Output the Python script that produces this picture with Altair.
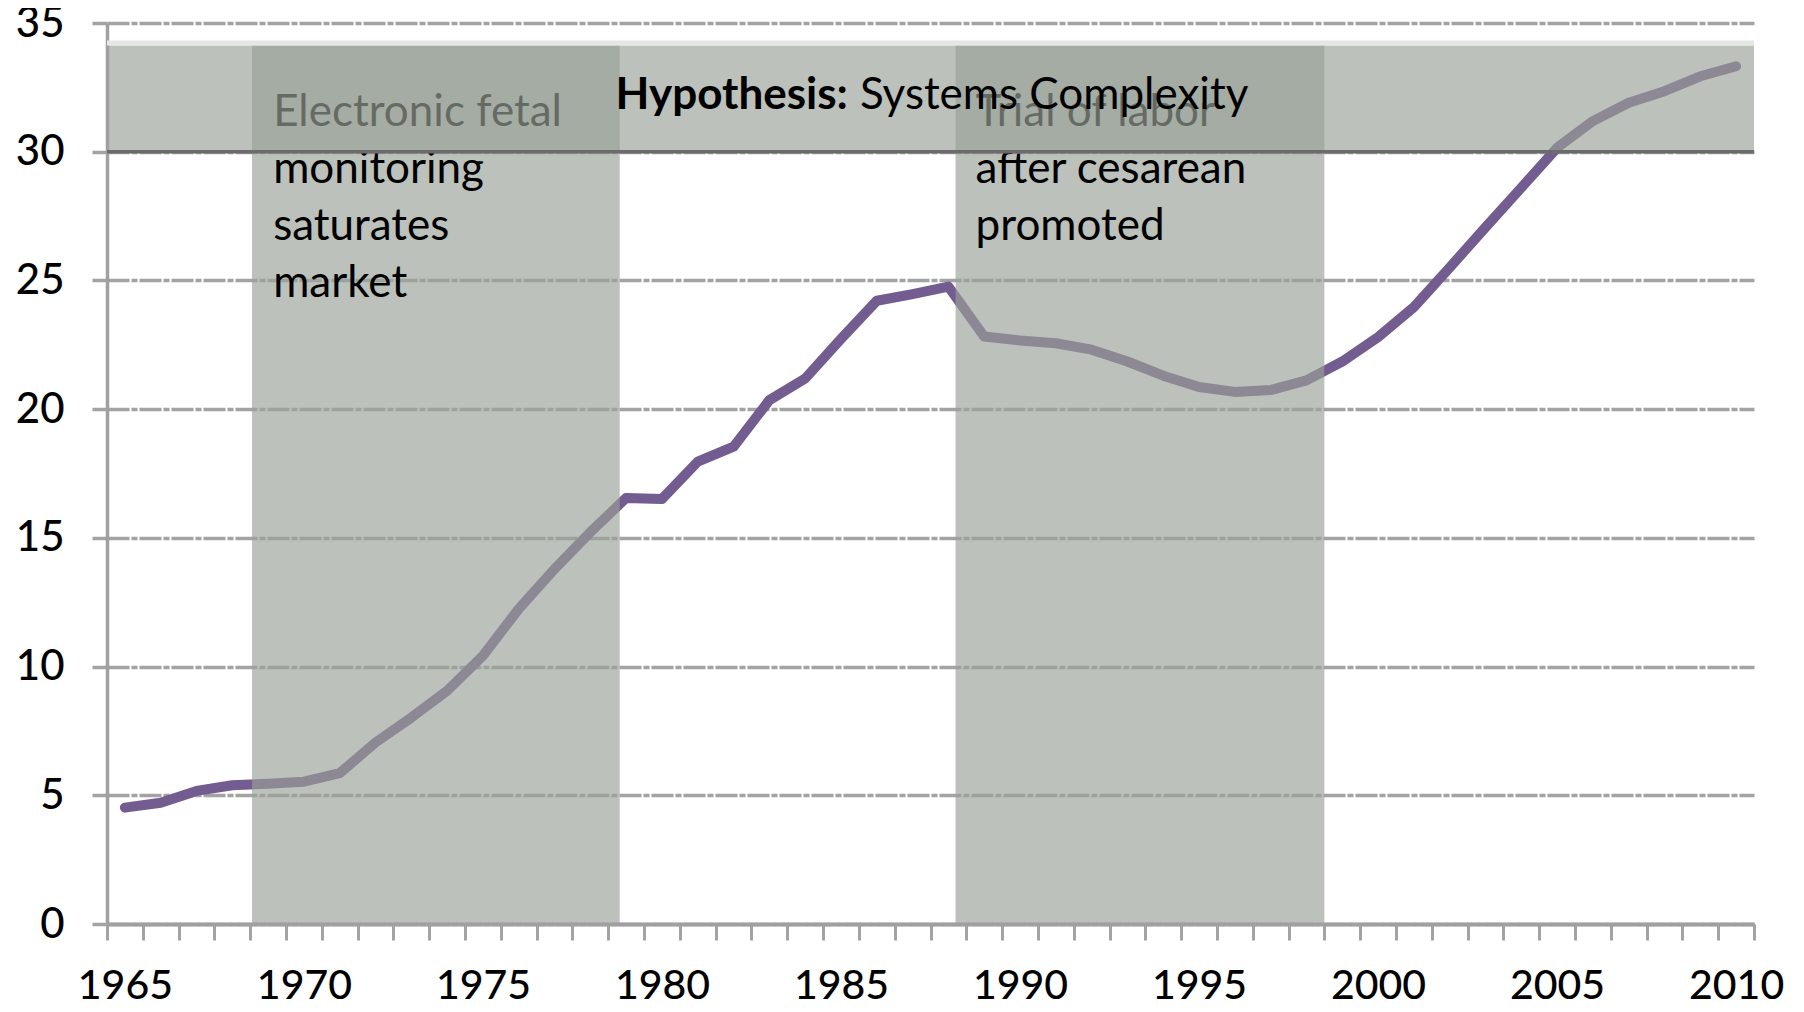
import altair as alt
import pandas as pd

# ---- data -------------------------------------------------------------
years = list(range(1965, 2011))
rates = [4.52, 4.71, 5.17, 5.39, 5.45, 5.53, 5.86, 7.05, 8.02, 9.06,
         10.42, 12.24, 13.79, 15.22, 16.55, 16.51, 17.96, 18.54, 20.35, 21.19,
         22.73, 24.21, 24.47, 24.76, 22.82, 22.67, 22.56, 22.31, 21.85, 21.30,
         20.86, 20.67, 20.74, 21.12, 21.85, 22.80, 23.96, 25.50, 27.06, 28.60,
         30.15, 31.19, 31.90, 32.35, 32.93, 33.32]
year_labels = years[::5]

period_start = [1968.55, 1988.2]
period_end = [1978.82, 1998.5]
period_text_x = [1969.14, 1988.76]
period_text_y = [31.0, 31.0]
period_texts = [["Electronic fetal", "monitoring", "saturates", "market"],
                ["Trial of labor", "after cesarean", "promoted"]]

hyp_low = [30.0]
hyp_high = [34.13]
hyp_top = [34.32]
hyp_split_x = [1985.36]
hyp_y = [31.65]
hyp_bold = "Hypothesis:"
hyp_rest = "Systems Complexity"

y_ticks = [0, 5, 10, 15, 20, 25, 30, 35]
X_MIN, X_MAX = 1964.5, 2010.5
boundaries = [X_MIN + k for k in range(len(years) + 1)]

# ---- styling ----------------------------------------------------------
FONT = "Lato"
W, H = 1647, 901
band_color = "#9aa198"
band_opacity = 0.66
grid_color = "#a3a3a3"

x_scale = alt.Scale(domain=[X_MIN, X_MAX], nice=False, zero=False)
y_scale = alt.Scale(domain=[0, 35], nice=False, zero=True)

x_tick_axis = alt.Axis(
    values=boundaries, labels=False, orient="bottom",
    tickSize=16, tickColor=grid_color, tickWidth=3,
    domainColor="#a0a0a0", domainWidth=4,
    grid=False, title=None,
)
x_label_axis = alt.Axis(
    values=year_labels, format="d", orient="bottom",
    ticks=False, tickSize=0, domain=False, grid=False,
    labelOverlap=False, labelFlush=False, labelBound=False,
    labelFont=FONT, labelFontSize=41, labelFontWeight=500,
    labelColor="#000000", labelPadding=42, title=None,
)
y_axis = alt.Axis(
    values=y_ticks,
    grid=True,
    gridColor=grid_color,
    gridWidth=3.5,
    gridDash=[22, 2, 6, 2],
    tickSize=15,
    tickColor=grid_color,
    tickWidth=3.5,
    domainColor="#a0a0a0",
    domainWidth=3.5,
    labelFont=FONT,
    labelFontSize=42,
    labelFontWeight=500,
    labelColor="#000000",
    labelPadding=28,
    title=None,
)


def xq(field, axis=None):
    return alt.X(field, scale=x_scale, axis=axis)


def yq(field):
    return alt.Y(field, scale=y_scale, axis=y_axis)


line_df = pd.DataFrame({"year": years, "rate": rates})
line = alt.Chart(line_df).mark_line(
    color="#735c8f", strokeWidth=10, strokeCap="round", strokeJoin="round"
).encode(x=xq("year:Q", x_tick_axis), y=yq("rate:Q"))

vb_df = pd.DataFrame({"s": period_start, "e": period_end,
                      "lo": [0.0] * len(period_start), "hi": hyp_high * len(period_start)})
vbands = alt.Chart(vb_df).mark_rect(color=band_color, opacity=band_opacity).encode(
    x=xq("s:Q", x_label_axis), x2="e:Q", y=yq("lo:Q"), y2="hi:Q",
)

texts = []
for tx, ty, lines in zip(period_text_x, period_text_y, period_texts):
    tdf = pd.DataFrame({"x": [tx], "y": [ty]})
    texts.append(
        alt.Chart(tdf).mark_text(
            text=lines, align="left", baseline="alphabetic", font=FONT,
            fontSize=44, lineHeight=57, color="#000000",
        ).encode(x=xq("x:Q"), y=yq("y:Q"))
    )

hb_df = pd.DataFrame({"s": [X_MIN], "e": [X_MAX], "lo": hyp_low, "hi": hyp_high, "top": hyp_top})
hband = alt.Chart(hb_df).mark_rect(color=band_color, opacity=band_opacity).encode(
    x=xq("s:Q"), x2="e:Q", y=yq("lo:Q"), y2="hi:Q",
)
strip = alt.Chart(hb_df).mark_rect(color="#e3e8e2").encode(
    x=xq("s:Q"), x2="e:Q", y=yq("hi:Q"), y2="top:Q",
)
edge = alt.Chart(hb_df).mark_rule(color="#6b6b6b", strokeWidth=3.5).encode(
    x=xq("s:Q"), x2="e:Q", y=yq("lo:Q"),
)

hyp_df = pd.DataFrame({"x": hyp_split_x, "y": hyp_y})
hyp1 = alt.Chart(hyp_df).mark_text(
    text=hyp_bold, align="right", baseline="alphabetic", font=FONT,
    fontSize=44, fontWeight="bold", color="#000000", dx=-6,
).encode(x=xq("x:Q"), y=yq("y:Q"))
hyp2 = alt.Chart(hyp_df).mark_text(
    text=hyp_rest, align="left", baseline="alphabetic", font=FONT,
    fontSize=44, color="#000000", dx=6,
).encode(x=xq("x:Q"), y=yq("y:Q"))

chart = alt.layer(
    line, vbands, *texts, hband, strip, edge, hyp1, hyp2
).resolve_scale(x="shared", y="shared").resolve_axis(x="independent").properties(
    width=W, height=H,
    padding={"left": 99, "top": 15, "right": 40, "bottom": 80},
    autosize=alt.AutoSizeParams(type="none"),
    background="#ffffff",
).configure_view(stroke=None)

chart.save("out.html", embed_options={"renderer": "svg", "actions": False})
